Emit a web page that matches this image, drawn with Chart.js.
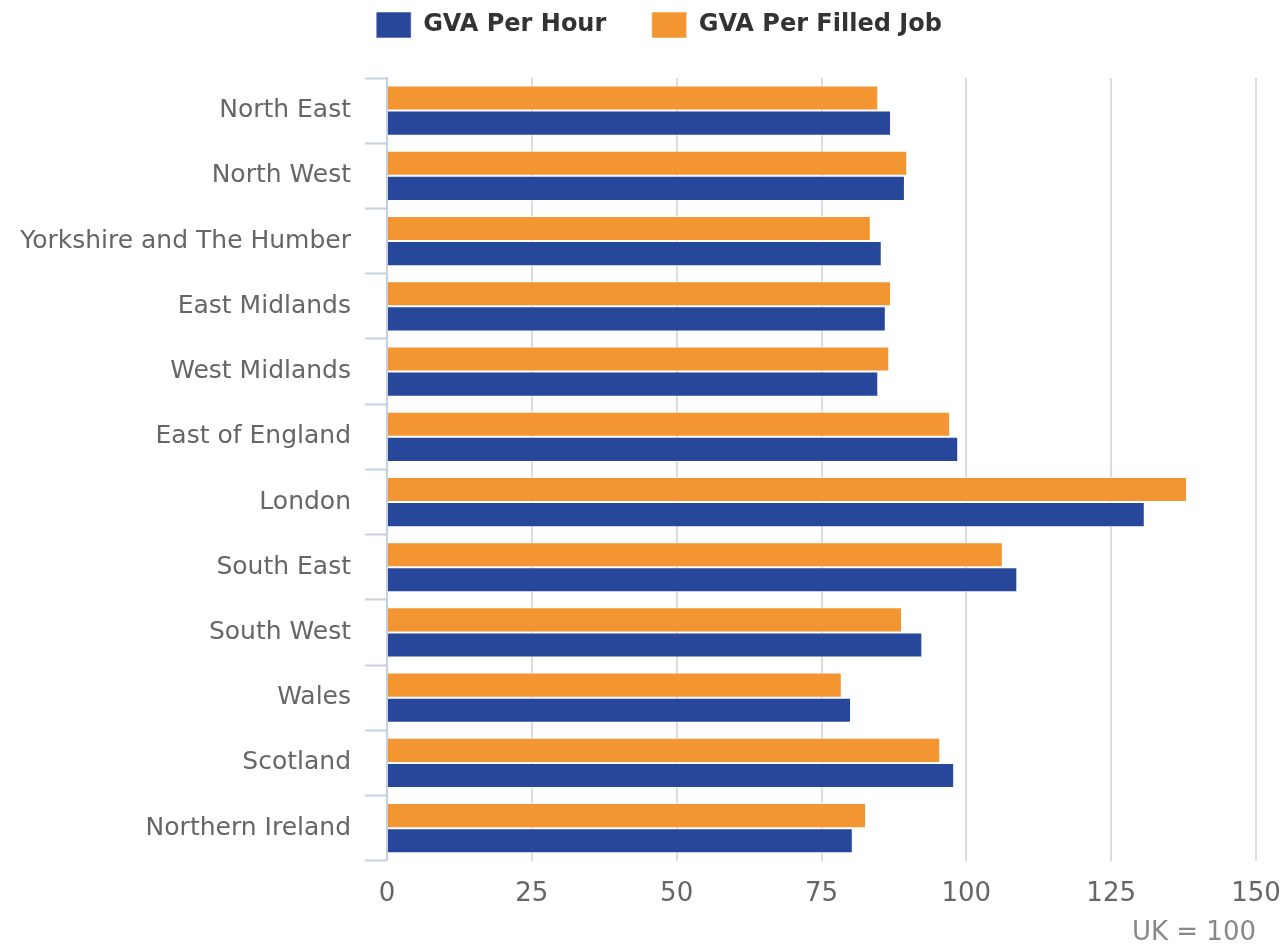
<!DOCTYPE html>
<html>
<head>
<meta charset="utf-8">
<script src="https://cdn.jsdelivr.net/npm/chart.js@4"></script>
<style>
  html, body { margin: 0; padding: 0; background: #fff; }
  #wrap { width: 1288px; height: 946px; }
</style>
</head>
<body>
<div id="wrap"><canvas id="chart"></canvas></div>
<script>
const regions = [
  'North East', 'North West', 'Yorkshire and The Humber', 'East Midlands',
  'West Midlands', 'East of England', 'London', 'South East', 'South West',
  'Wales', 'Scotland', 'Northern Ireland'
];
const perFilledJob = [84.8, 89.8, 83.5, 87.0, 86.7, 97.2, 138.1, 106.3, 88.9, 78.5, 95.5, 82.7];
const perHour = [87.0, 89.4, 85.4, 86.1, 84.8, 98.6, 130.8, 108.8, 92.4, 80.1, 97.9, 80.4];
const xTicks = [0, 25, 50, 75, 100, 125, 150];

const BLUE = '#27479a';
const ORANGE = '#f39530';

// extra room under the legend, and nudge it a little to the right
const legendTweak = {
  id: 'legendTweak',
  beforeInit(chart) {
    const fit = chart.legend.fit;
    chart.legend.fit = function () {
      fit.bind(chart.legend)();
      this.height += 30;
    };
  },
  afterLayout(chart) {
    chart.legend.left += 10;
    chart.legend.right += 10;
  },
};

// orange first so it sits above blue in each group; legend reversed to match
const ctx = document.getElementById('chart').getContext('2d');
new Chart(ctx, {
  type: 'bar',
  data: {
    labels: regions,
    datasets: [
      {
        label: 'GVA Per Filled Job',
        data: perFilledJob,
        backgroundColor: ORANGE,
        borderColor: 'rgba(255,255,255,0.55)',
        borderWidth: 1,
        categoryPercentage: 0.77,
        barPercentage: 1.0,
      },
      {
        label: 'GVA Per Hour    ',
        data: perHour,
        backgroundColor: BLUE,
        borderColor: 'rgba(255,255,255,0.55)',
        borderWidth: 1,
        categoryPercentage: 0.77,
        barPercentage: 1.0,
      },
    ],
  },
  plugins: [legendTweak],
  options: {
    indexAxis: 'y',
    responsive: true,
    maintainAspectRatio: false,
    animation: false,
    layout: { padding: { left: 10, right: 0, top: 0, bottom: 0 } },
    plugins: {
      tooltip: { enabled: false },
      legend: {
        reverse: true,
        labels: {
          boxWidth: 35,
          boxHeight: 26,
          padding: 12,
          color: '#333',
          font: { family: 'DejaVu Sans', size: 24, weight: 'bold' },
        },
      },
    },
    scales: {
      x: {
        min: 0,
        max: 150,
        afterBuildTicks: scale => {
          scale.ticks = xTicks.map(v => ({ value: v }));
        },
        afterFit: scale => {
          scale.paddingRight = 32;
        },
        grid: {
          color: ctx2 => (ctx2.tick && ctx2.tick.value === 0 ? '#777' : '#dcdcdc'),
          lineWidth: 2,
          drawTicks: false,
        },
        border: { display: false },
        ticks: {
          color: '#666',
          padding: 18,
          font: { family: 'DejaVu Sans', size: 26 },
        },
        title: {
          display: true,
          text: 'UK = 100',
          align: 'end',
          color: '#888',
          padding: { top: -8, bottom: 0 },
          font: { family: 'DejaVu Sans', size: 26, lineHeight: 1 },
        },
      },
      y: {
        grid: {
          drawOnChartArea: false,
          tickLength: 22,
          tickColor: '#c3d1e0',
          tickWidth: 2,
        },
        border: { display: true, color: '#c3d1e0', width: 2 },
        ticks: {
          color: '#666',
          padding: 14,
          font: { family: 'DejaVu Sans', size: 25 },
        },
        afterFit: scale => {
          scale.width = 377;
        },
      },
    },
  },
});
</script>
</body>
</html>
